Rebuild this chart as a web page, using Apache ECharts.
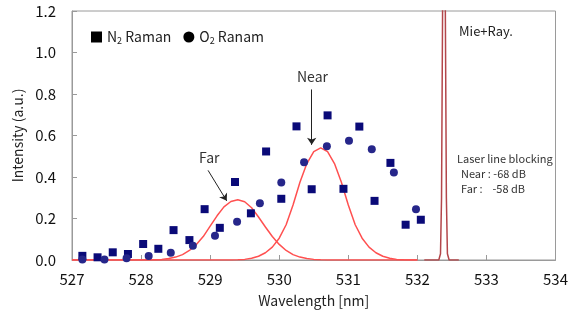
<!DOCTYPE html>
<html>
<head>
<meta charset="utf-8">
<script src="https://cdn.jsdelivr.net/npm/echarts@6/dist/echarts.min.js"></script>
<style>
html, body { margin: 0; padding: 0; background: #fff; }
#main { width: 571px; height: 322px; }
</style>
</head>
<body>
<div id="main"></div>
<script>
// N2 Raman 实测点
var n2Wave = [527.15, 527.37, 527.59, 527.81, 528.03, 528.25, 528.47, 528.70, 528.92, 529.14, 529.36, 529.59,
	529.81, 530.03, 530.25, 530.47, 530.70, 530.93, 531.16, 531.38, 531.61, 531.83, 532.05];
var n2Val = [0.020, 0.013, 0.037, 0.029, 0.077, 0.054, 0.144, 0.096, 0.245, 0.155, 0.376, 0.225,
	0.523, 0.295, 0.644, 0.341, 0.697, 0.343, 0.643, 0.285, 0.468, 0.170, 0.194];
// O2 Ranam 实测点
var o2Wave = [527.15, 527.47, 527.79, 528.11, 528.43, 528.75, 529.07, 529.39, 529.72, 530.03, 530.36, 530.69,
	531.01, 531.34, 531.66, 531.98];
var o2Val = [0.002, 0.003, 0.008, 0.019, 0.035, 0.069, 0.117, 0.184, 0.274, 0.374, 0.471, 0.548,
	0.575, 0.534, 0.422, 0.245];
// Far 曲线
var farWave = [527.0, 528.0, 528.1, 528.2, 528.3, 528.4, 528.5, 528.6, 528.7, 528.8, 528.9, 529.0, 529.1, 529.2,
	529.3, 529.4, 529.5, 529.6, 529.7, 529.8, 529.9, 530.0, 530.1, 530.2, 530.3, 530.4, 530.5, 530.6, 530.7, 532.0];
var farVal = [0, 0, 0.001, 0.001, 0.003, 0.007, 0.014, 0.026, 0.046, 0.075, 0.113, 0.163, 0.213, 0.256,
	0.282, 0.290, 0.281, 0.252, 0.207, 0.159, 0.113, 0.075, 0.046, 0.026, 0.014, 0.007, 0.003, 0.001, 0, 0];
// Near 曲线
var nearWave = [527.0, 529.3, 529.4, 529.5, 529.6, 529.7, 529.8, 529.9, 530.0, 530.1, 530.2, 530.3, 530.4, 530.5,
	530.6, 530.7, 530.8, 530.9, 531.0, 531.1, 531.2, 531.3, 531.4, 531.5, 531.6, 531.7, 531.8, 531.9, 532.0];
var nearVal = [0, 0, 0.001, 0.003, 0.008, 0.018, 0.035, 0.062, 0.105, 0.170, 0.265, 0.375, 0.465, 0.522,
	0.540, 0.522, 0.465, 0.375, 0.265, 0.170, 0.105, 0.062, 0.035, 0.018, 0.008, 0.003, 0.001, 0, 0];
// Mie+Ray. 激光线
var laserWave = [532.10, 532.31, 532.335, 532.35, 532.365, 532.385, 532.405, 532.42, 532.435, 532.46, 532.60];
var laserVal = [0, 0, 0.03, 0.3, 1.2, 3.0, 1.2, 0.3, 0.03, 0, 0];

var xTicks = [527, 534, 1];
var yTicks = [0, 1.2, 0.2];

function pairs(xs, ys) {
	var out = [];
	for (var i = 0; i < xs.length; i++) {
		out.push([xs[i], ys[i]]);
	}
	return out;
}

var FONT = 'Noto Sans CJK JP';
var chart = echarts.init(document.getElementById('main'));
var option = {
	backgroundColor: '#fff',
	animation: false,
	textStyle: { fontFamily: FONT },
	grid: {
		left: 72, right: 15, top: 11, bottom: 62,
		show: true, borderColor: '#9a9a9a', borderWidth: 1
	},
	legend: {
		left: 86, top: 25,
		itemWidth: 11, itemHeight: 11, itemGap: 12,
		textStyle: {
			fontFamily: FONT, fontSize: 14, color: '#222',
			rich: {
				a: { fontFamily: FONT, fontSize: 14, color: '#222' },
				s: { fontFamily: FONT, fontSize: 9, color: '#222', padding: [8, 0, 0, 0] }
			}
		},
		formatter: function (name) {
			if (name === 'N2 Raman') return '{a|N}{s|2}{a| Raman}';
			return '{a|O}{s|2}{a| Ranam}';
		},
		data: [
			{ name: 'N2 Raman', icon: 'rect', itemStyle: { color: '#000' } },
			{ name: 'O2 Ranam', icon: 'circle', itemStyle: { color: '#000' } }
		]
	},
	xAxis: {
		type: 'value',
		min: xTicks[0], max: xTicks[1], interval: xTicks[2],
		name: 'Wavelength [nm]', nameLocation: 'middle', nameGap: 34,
		nameTextStyle: { fontFamily: FONT, fontSize: 14, color: '#222' },
		axisLine: { lineStyle: { color: '#9a9a9a' } },
		axisTick: { inside: true, length: 5, lineStyle: { color: '#9a9a9a' } },
		axisLabel: { fontFamily: FONT, fontSize: 15, color: '#111', margin: 12 },
		splitLine: { show: false }
	},
	yAxis: {
		type: 'value',
		min: yTicks[0], max: yTicks[1], interval: yTicks[2],
		name: 'Intensity (a.u.)', nameLocation: 'middle', nameGap: 47,
		nameTextStyle: { fontFamily: FONT, fontSize: 14, color: '#222' },
		axisLine: { show: true, lineStyle: { color: '#9a9a9a' } },
		axisTick: { show: true, inside: true, length: 5, lineStyle: { color: '#9a9a9a' } },
		axisLabel: {
			fontFamily: FONT, fontSize: 15, color: '#111', margin: 16,
			formatter: function (v) { return v.toFixed(1); }
		},
		splitLine: { show: false }
	},
	series: [
		{
			name: 'Far', type: 'line', data: pairs(farWave, farVal),
			showSymbol: false, smooth: false,
			lineStyle: { color: '#ff5050', width: 1.5 }, z: 2
		},
		{
			name: 'Near', type: 'line', data: pairs(nearWave, nearVal),
			showSymbol: false, smooth: false,
			lineStyle: { color: '#ff5050', width: 1.5 }, z: 2,
			markLine: {
				silent: true, symbol: ['none', 'arrow'], symbolSize: 7,
				label: { show: false },
				lineStyle: { color: '#222', width: 1, type: 'solid' },
				data: [
					[{ coord: [530.47, 0.822] }, { coord: [530.47, 0.555] }],
					[{ coord: [528.97, 0.432] }, { coord: [529.24, 0.285] }]
				]
			}
		},
		{
			name: 'Mie+Ray.', type: 'line', data: pairs(laserWave, laserVal),
			showSymbol: false, clip: true,
			lineStyle: { color: '#b3464a', width: 1.5 }, z: 2
		},
		{
			name: 'N2 Raman', type: 'scatter', data: pairs(n2Wave, n2Val),
			symbol: 'rect', symbolSize: 8,
			itemStyle: { color: '#0a0a78', opacity: 1 }, z: 3
		},
		{
			name: 'O2 Ranam', type: 'scatter', data: pairs(o2Wave, o2Val),
			symbol: 'circle', symbolSize: 8,
			itemStyle: { color: '#26268a', opacity: 1 }, z: 3
		}
	],
	graphic: [
		{ type: 'text', left: 297, top: 70, style: { text: 'Near', font: '14px "Noto Sans CJK JP"', fill: '#333' } },
		{ type: 'text', left: 199, top: 151, style: { text: 'Far', font: '14px "Noto Sans CJK JP"', fill: '#333' } },
		{ type: 'text', left: 459, top: 25, style: { text: 'Mie+Ray.', font: '13px "Noto Sans CJK JP"', fill: '#222' } },
		{ type: 'text', left: 457, top: 153, style: { text: 'Laser line blocking', font: '11px "Noto Sans CJK JP"', fill: '#333' } },
		{ type: 'text', left: 461, top: 168, style: { text: 'Near : -68 dB', font: '11px "Noto Sans CJK JP"', fill: '#333' } },
		{ type: 'text', left: 461, top: 183, style: { text: 'Far :    -58 dB', font: '11px "Noto Sans CJK JP"', fill: '#333' } }
	]
};
chart.setOption(option);
</script>
</body>
</html>
